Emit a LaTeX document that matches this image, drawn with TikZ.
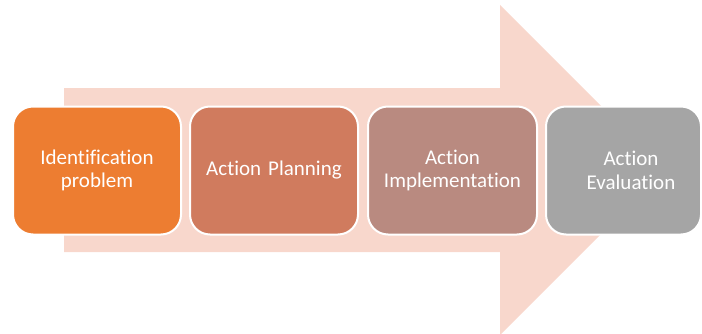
\documentclass[tikz,border=0pt]{standalone}
\usepackage{fontspec}
\setmainfont[Ligatures=NoCommon]{Carlito}
\definecolor{arrowpeach}{HTML}{F8D7CC}
\definecolor{stepA}{HTML}{ED7D31}
\definecolor{stepB}{HTML}{D07B5E}
\definecolor{stepC}{HTML}{B98A80}
\definecolor{stepD}{HTML}{A5A5A5}
\tikzset{
  stepbox/.style={draw=white, line width=2pt, rounded corners=20pt,
    minimum height=128pt, text width=140pt, align=center,
    text=white, font=\fontsize{21}{23.5}\selectfont, inner sep=0pt},
  steptext/.style={align=center, text=white,
    font=\fontsize{21}{23.5}\selectfont, inner sep=0pt}
}
\begin{document}
\begin{tikzpicture}[x=1pt,y=1pt]
\useasboundingbox (0,0) rectangle (702,333);
%\draw[step=50,gray,very thin] (0,0) grid (702,333); %background grid

% big arrow behind the steps
\fill[arrowpeach] (64,81) -- (500,81) -- (500,-2) -- (665,163) -- (500,328) -- (500,245) -- (64,245) -- cycle;

\node[stepbox,fill=stepA,minimum width=168pt] (ident) at (97,162.5) {Identification\\problem};
\node[stepbox,fill=stepB,minimum width=168pt] (plan)  at (274,162.5) {Action Planning};
\node[stepbox,fill=stepC,minimum width=169pt] (impl)  at (452.5,162.5) {Action\\Implementation};
\node[stepbox,fill=stepD,minimum width=155pt] (eval)  at (623.5,162.5) {};
\node[steptext] (evaltext) at (631,162.5) {Action\\Evaluation};
\end{tikzpicture}
\end{document}
